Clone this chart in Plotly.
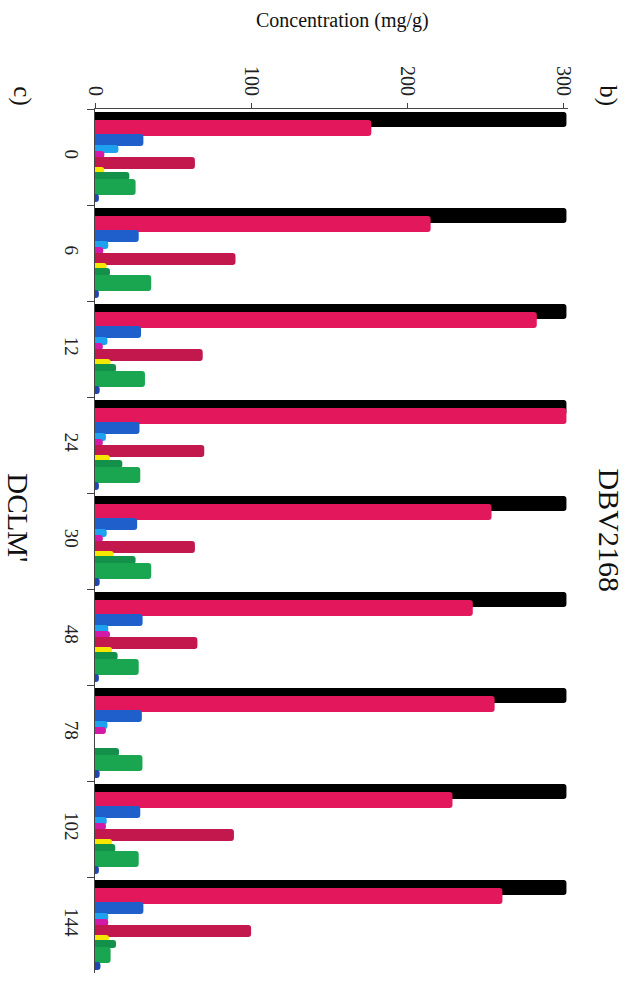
import plotly.graph_objects as go

# Sampling times (h)
times = ["0", "6", "12", "24", "30", "48", "78", "102", "144"]

# Concentrations (mg/g) per component at each sampling time
black_vals = [302, 302, 302, 302, 302, 302, 302, 302, 302]
pink_vals = [177, 215, 283, 302, 254, 242, 256, 229, 261]
blue_vals = [31, 28, 29.5, 28.5, 27, 30.5, 30, 29, 31]
lightblue_vals = [15, 8.5, 8, 7, 7.5, 8.5, 8, 7.5, 8.5]
magenta_vals = [6, 5.3, 5, 5, 5, 9.6, 7, 7, 8.5]
crimson_vals = [64, 90, 69, 70, 64, 65.6, 0, 89, 100]
yellow_vals = [6, 7.5, 10, 9.6, 12, 11, 0, 11, 9]
darkgreen_vals = [22, 9.6, 13.5, 17.5, 26, 14.5, 15.4, 13, 13.5]
green_vals = [26, 36, 32, 29, 36, 28, 30.4, 28, 10]
darkblue_vals = [2.5, 2.5, 3, 2.5, 3, 2.5, 3, 2.5, 3.5]

series = [
    black_vals, pink_vals, blue_vals, lightblue_vals, magenta_vals,
    crimson_vals, yellow_vals, darkgreen_vals, green_vals, darkblue_vals,
]

# Styling: colour plus band (start, end) inside each category slot, in px
colors = ["#000000", "#e3185c", "#1f5fcb", "#1ea2ef", "#d21aa6",
          "#c2184e", "#f4e800", "#13904a", "#1aa650", "#2246ad"]
bands = [(-45, -30), (-37, -21), (-23, -11), (-12, -4), (-6, 1),
         (0, 12), (10, 16), (15, 23), (22, 38), (37, 45)]
SLOT_PX = 95.9

FONT = "Liberation Serif"

fig = go.Figure()
for vals, col, (b0, b1) in zip(series, colors, bands):
    fig.add_trace(go.Bar(
        x=vals, y=times, orientation="h",
        marker=dict(color=col, line=dict(width=0)),
        offset=b0 / SLOT_PX, width=(b1 - b0) / SLOT_PX,
        showlegend=False,
    ))


def label(text, x, y, size, angle=0):
    return dict(text=text, xref="paper", yref="paper", x=x, y=y,
                xanchor="center", yanchor="middle", showarrow=False,
                textangle=angle,
                font=dict(size=size, family=FONT, color="#111"))


fig.update_layout(
    width=638, height=983,
    margin=dict(l=95, r=70, t=109, b=10),
    paper_bgcolor="white", plot_bgcolor="white",
    barmode="overlay", barcornerradius=3,
    font=dict(family=FONT, color="#222222", size=18),
    xaxis=dict(
        side="top", range=[0, 303], tickvals=[0, 100, 200, 300],
        tickangle=90, ticks="outside", ticklen=5, tickcolor="#444",
        showline=True, linecolor="#444", linewidth=1,
        showgrid=False, zeroline=False,
        tickfont=dict(size=20, family=FONT, color="#222"),
    ),
    yaxis=dict(
        type="category", categoryorder="array", categoryarray=times,
        range=[8.5, -0.5], tickson="boundaries",
        tickangle=90, ticks="outside", ticklen=7, tickcolor="#444",
        showline=True, linecolor="#444", linewidth=1,
        showgrid=False, zeroline=False, ticklabelstandoff=6,
        tickfont=dict(size=19, family=FONT, color="#222"),
    ),
    annotations=[
        label("Concentration (mg/g)", 0.524, 1.102, 20),
        label("b)", 1.084, 1.015, 25, 90),
        label("c)", -0.155, 1.015, 25, 90),
        label("DBV2168", 1.087, 0.513, 30, 90),
        label("DCLM'", -0.162, 0.527, 29, 90),
    ],
)

fig.write_html("out.html")
